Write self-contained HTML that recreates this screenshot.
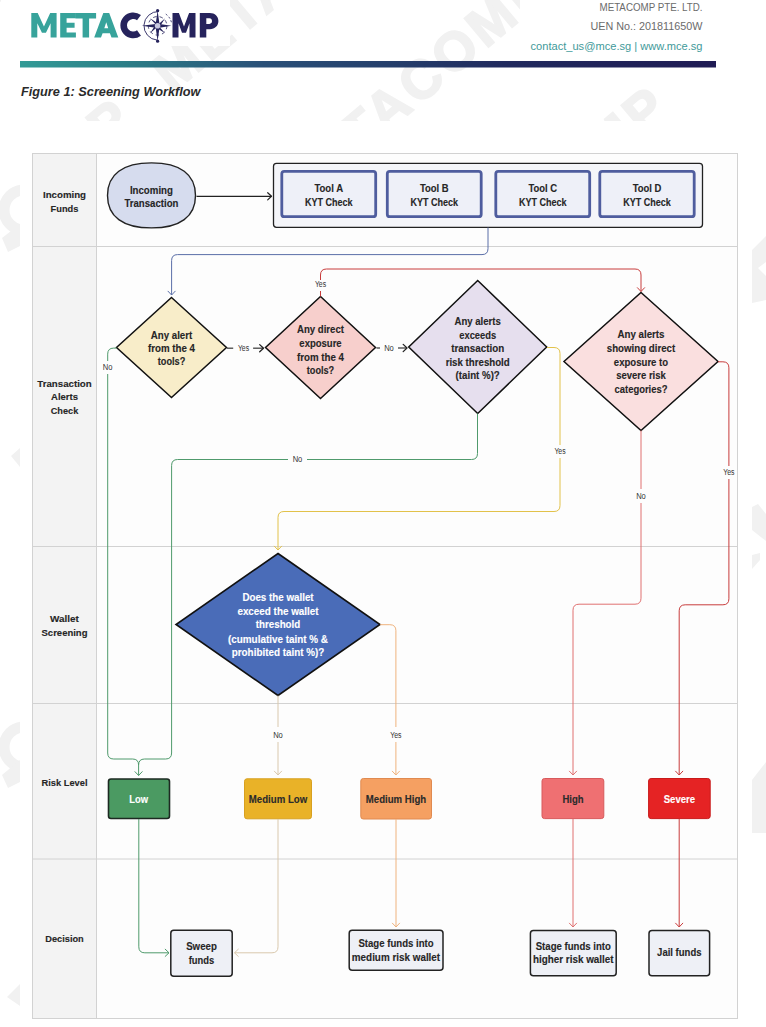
<!DOCTYPE html><html><head><meta charset="utf-8"><title>Screening Workflow</title><style>html,body{margin:0;padding:0;background:#fff;width:766px;height:1027px;overflow:hidden}svg{display:block}text{font-family:"Liberation Sans",sans-serif}</style></head><body>
<svg width="766" height="1027" viewBox="0 0 766 1027">
<defs><linearGradient id="bar" x1="0" x2="1" y1="0" y2="0"><stop offset="0" stop-color="#339b96"/><stop offset="0.16" stop-color="#2b7c86"/><stop offset="0.35" stop-color="#2a5078"/><stop offset="0.53" stop-color="#253f6c"/><stop offset="0.7" stop-color="#212a5e"/><stop offset="1" stop-color="#1f1b54"/></linearGradient></defs>
<rect x="0" y="0" width="766" height="1027" fill="#ffffff"/>
<defs><clipPath id="hdr"><rect x="0" y="0" width="766" height="121"/></clipPath><clipPath id="lm"><rect x="0" y="0" width="20" height="1027"/></clipPath></defs>
<g fill="#f1f1f1" stroke="#f1f1f1" stroke-width="2" font-size="54" font-weight="bold" letter-spacing="4" clip-path="url(#hdr)">
<text transform="translate(-185.3,-262.2) rotate(-40)">METACOMP</text>
<text transform="translate(-363.4,105.8) rotate(-40)">METACOMP</text>
<text transform="translate(-66.2,-143.6) rotate(-40)">METACOMP</text>
<text transform="translate(-244.2,224.5) rotate(-40)">METACOMP</text>
<text transform="translate(53.0,-24.9) rotate(-40)">METACOMP</text>
<text transform="translate(350.2,-274.3) rotate(-40)">METACOMP</text>
<text transform="translate(-422.3,592.6) rotate(-40)">METACOMP</text>
<text transform="translate(-125.1,343.2) rotate(-40)">METACOMP</text>
<text transform="translate(172.2,93.8) rotate(-40)">METACOMP</text>
<text transform="translate(469.4,-155.6) rotate(-40)">METACOMP</text>
<text transform="translate(-303.1,711.3) rotate(-40)">METACOMP</text>
<text transform="translate(-5.9,461.9) rotate(-40)">METACOMP</text>
<text transform="translate(291.3,212.5) rotate(-40)">METACOMP</text>
<text transform="translate(588.5,-37.0) rotate(-40)">METACOMP</text>
<text transform="translate(885.8,-286.4) rotate(-40)">METACOMP</text>
<text transform="translate(-184.0,829.9) rotate(-40)">METACOMP</text>
<text transform="translate(113.2,580.5) rotate(-40)">METACOMP</text>
<text transform="translate(410.5,331.1) rotate(-40)">METACOMP</text>
<text transform="translate(707.7,81.7) rotate(-40)">METACOMP</text>
<text transform="translate(1004.9,-167.7) rotate(-40)">METACOMP</text>
<text transform="translate(-362.0,1198.0) rotate(-40)">METACOMP</text>
<text transform="translate(-64.8,948.6) rotate(-40)">METACOMP</text>
<text transform="translate(232.4,699.2) rotate(-40)">METACOMP</text>
<text transform="translate(529.6,449.8) rotate(-40)">METACOMP</text>
<text transform="translate(826.9,200.4) rotate(-40)">METACOMP</text>
<text transform="translate(1124.1,-49.0) rotate(-40)">METACOMP</text>
<text transform="translate(-242.9,1316.7) rotate(-40)">METACOMP</text>
<text transform="translate(54.3,1067.3) rotate(-40)">METACOMP</text>
<text transform="translate(351.6,817.9) rotate(-40)">METACOMP</text>
<text transform="translate(648.8,568.5) rotate(-40)">METACOMP</text>
<text transform="translate(946.0,319.1) rotate(-40)">METACOMP</text>
<text transform="translate(173.5,1185.9) rotate(-40)">METACOMP</text>
<text transform="translate(470.7,936.5) rotate(-40)">METACOMP</text>
<text transform="translate(767.9,687.1) rotate(-40)">METACOMP</text>
<text transform="translate(1065.2,437.7) rotate(-40)">METACOMP</text>
<text transform="translate(292.7,1304.6) rotate(-40)">METACOMP</text>
<text transform="translate(589.9,1055.2) rotate(-40)">METACOMP</text>
<text transform="translate(887.1,805.8) rotate(-40)">METACOMP</text>
</g>
<g clip-path="url(#lm)" fill="none" stroke="#f1f1f1" stroke-width="11"><path d="M24 190 A19 19 0 1 0 24 230"/><path d="M24 727 A19 19 0 1 0 24 767"/></g>
<g fill="#f1f1f1"><path d="M11 456 L20 448 L20 467 Z"/><path d="M7 997 L20 984 L20 1006 Z"/><path d="M2 238 L20 224 L20 246 L8 252 Z"/><path d="M2 775 L20 760 L20 782 L8 788 Z"/>
<path d="M752 250 L766 236 L766 262 L758 268 L766 276 L766 300 L752 303 Z"/><path d="M752 507 L758 504 L766 514 L766 541 L752 530 Z"/><path d="M752 555 L760 553 L760 560 L752 569 Z"/><path d="M752 780 L766 762 L766 833 L752 833 Z"/></g>
<rect x="20" y="121" width="732" height="906" fill="#ffffff"/>
<rect x="25" y="0" width="205" height="46" fill="#ffffff"/>
<rect x="520" y="0" width="246" height="86" fill="#ffffff"/>
<path d="M31.3 37.6 L31.3 13.0 L37.7 13.0 L43.95 26.53 L50.2 13.0 L56.6 13.0 L56.6 37.6 L50.6 37.6 L50.6 23.332 L45.95 32.68000000000001 L41.95 32.68000000000001 L37.300000000000004 23.332 L37.300000000000004 37.6 Z" fill="#37a39b"/>
<path d="M60.2 13 H75.9 V18.2 H66.6 V22.7 H74.6 V27.8 H66.6 V32.4 H75.9 V37.6 H60.2 Z" fill="#37a39b"/>
<path d="M75.6 13 H96.1 V18.4 H89.1 V37.6 H82.6 V18.4 H75.6 Z" fill="#37a39b"/>
<path fill-rule="evenodd" d="M94.2 37.6 L103.3 13 H109.2 L118.3 37.6 H111.5 L109.9 33.2 H102.6 L101.0 37.6 Z M104.3 28.3 H108.2 L106.25 22.2 Z" fill="#37a39b"/>
<path d="M139.0 17.6 A9.6 9.6 0 1 0 139.0 33.0" fill="none" stroke="#26235c" stroke-width="6.6"/>
<path d="M172.5 37.6 L172.5 13.0 L178.9 13.0 L184.0 26.53 L189.1 13.0 L195.5 13.0 L195.5 37.6 L189.5 37.6 L189.5 23.332 L186.0 32.68000000000001 L182.0 32.68000000000001 L178.5 23.332 L178.5 37.6 Z" fill="#26235c"/>
<path fill-rule="evenodd" d="M199.8 37.6 V13 H209.8 C214.9 13 218.4 16.3 218.4 21.1 C218.4 25.9 214.9 29.2 209.8 29.2 H206.3 V37.6 Z M206.3 18.3 V23.9 H209.4 C211.1 23.9 212.0 22.8 212.0 21.1 C212.0 19.4 211.1 18.3 209.4 18.3 Z" fill="#26235c"/>
<path d="M158.85 11.55 A14.3 14.3 0 0 0 157.10 40.09" fill="none" stroke="#26235c" stroke-width="0.9"/>
<path d="M165.80 14.09 A14.3 14.3 0 0 1 171.68 23.32" fill="none" stroke="#26235c" stroke-width="0.9" stroke-dasharray="2 2"/>
<circle cx="157.6" cy="25.8" r="9.3" fill="none" stroke="#26235c" stroke-width="0.8" stroke-dasharray="3.5 3"/>
<path d="M157.6 10.600000000000001 L159.5 23.900000000000002 L171.4 25.8 L159.5 27.7 L157.6 41.2 L155.7 27.7 L141.7 25.8 L155.7 23.900000000000002 Z" fill="#26235c"/>
<path d="M150.1 18.3 L158.79999999999998 23.900000000000002 L165.1 18.3 L159.5 27.0 L165.1 33.3 L156.4 27.7 L150.1 33.3 L155.7 24.6 Z" fill="#26235c"/>
<circle cx="157.6" cy="25.8" r="2.8" fill="#c8c8e0"/>
<circle cx="157.6" cy="10.600000000000001" r="1.6" fill="#26235c"/><circle cx="157.6" cy="41.2" r="1.6" fill="#26235c"/>
<text x="702.5" y="11" font-size="10.6" fill="#6b6b6b" text-anchor="end" font-weight="normal" textLength="103" lengthAdjust="spacingAndGlyphs"  style="">METACOMP PTE. LTD.</text>
<text x="702.5" y="29.5" font-size="10.6" fill="#6b6b6b" text-anchor="end" font-weight="normal" textLength="112" lengthAdjust="spacingAndGlyphs"  style="">UEN No.: 201811650W</text>
<text x="702.5" y="50" font-size="10.6" fill="#3f9a9a" text-anchor="end" font-weight="normal" textLength="172" lengthAdjust="spacingAndGlyphs"  style="">contact_us@mce.sg | www.mce.sg</text>
<rect x="20" y="61" width="696" height="6.5" fill="url(#bar)"/>
<text x="21" y="96.4" font-size="13.6" fill="#2a2a2a" text-anchor="start" font-weight="bold" textLength="179.5" lengthAdjust="spacingAndGlyphs"  style="font-style:italic">Figure 1: Screening Workflow</text>
<rect x="32.5" y="153.5" width="705.0" height="865.0" fill="#fdfdfd" stroke="#d2d2d2" stroke-width="1"/>
<rect x="33.0" y="154.0" width="63.5" height="864.0" fill="#f3f3f3"/>
<line x1="96.5" y1="153.5" x2="96.5" y2="1018.5" stroke="#d2d2d2" stroke-width="1"/>
<line x1="32.5" y1="246.5" x2="737.5" y2="246.5" stroke="#d2d2d2" stroke-width="1"/>
<line x1="32.5" y1="546.5" x2="737.5" y2="546.5" stroke="#d2d2d2" stroke-width="1"/>
<line x1="32.5" y1="703.5" x2="737.5" y2="703.5" stroke="#d2d2d2" stroke-width="1"/>
<line x1="32.5" y1="859" x2="737.5" y2="859" stroke="#d2d2d2" stroke-width="1"/>
<text x="64.5" y="198" font-size="9.6" fill="#262626" text-anchor="middle" font-weight="bold" textLength="43" lengthAdjust="spacingAndGlyphs" stroke="#262626" stroke-width="0.12"  style="">Incoming</text>
<text x="64.5" y="211.8" font-size="9.6" fill="#262626" text-anchor="middle" font-weight="bold" textLength="27.8" lengthAdjust="spacingAndGlyphs" stroke="#262626" stroke-width="0.12"  style="">Funds</text>
<text x="64.5" y="387.4" font-size="9.6" fill="#262626" text-anchor="middle" font-weight="bold" textLength="54.4" lengthAdjust="spacingAndGlyphs" stroke="#262626" stroke-width="0.12"  style="">Transaction</text>
<text x="64.5" y="400.4" font-size="9.6" fill="#262626" text-anchor="middle" font-weight="bold" textLength="27" lengthAdjust="spacingAndGlyphs" stroke="#262626" stroke-width="0.12"  style="">Alerts</text>
<text x="64.5" y="413.9" font-size="9.6" fill="#262626" text-anchor="middle" font-weight="bold" textLength="27.6" lengthAdjust="spacingAndGlyphs" stroke="#262626" stroke-width="0.12"  style="">Check</text>
<text x="64.5" y="621.9" font-size="9.8" fill="#262626" text-anchor="middle" font-weight="bold" textLength="28.8" lengthAdjust="spacingAndGlyphs" stroke="#262626" stroke-width="0.12"  style="">Wallet</text>
<text x="64.5" y="635.6" font-size="9.8" fill="#262626" text-anchor="middle" font-weight="bold" textLength="46" lengthAdjust="spacingAndGlyphs" stroke="#262626" stroke-width="0.12"  style="">Screening</text>
<text x="64.5" y="785.5" font-size="9.8" fill="#262626" text-anchor="middle" font-weight="bold" textLength="46" lengthAdjust="spacingAndGlyphs" stroke="#262626" stroke-width="0.12"  style="">Risk Level</text>
<text x="64.5" y="941.9" font-size="8.6" fill="#262626" text-anchor="middle" font-weight="bold" textLength="38.5" lengthAdjust="spacingAndGlyphs" stroke="#262626" stroke-width="0.12"  style="">Decision</text>
<path d="M151.5 162.9 C180.1 162.9 195.5 174.275 195.5 195.4 C195.5 216.525 180.1 227.9 151.5 227.9 C122.9 227.9 107.5 216.525 107.5 195.4 C107.5 174.275 122.9 162.9 151.5 162.9 Z" fill="#d6dcee" stroke="#222" stroke-width="1.4"/>
<text x="151.4" y="193.6" font-size="10.4" fill="#262626" text-anchor="middle" font-weight="bold" textLength="43" lengthAdjust="spacingAndGlyphs" stroke="#262626" stroke-width="0.12"  style="">Incoming</text>
<text x="151.4" y="207.2" font-size="10.4" fill="#262626" text-anchor="middle" font-weight="bold" textLength="54" lengthAdjust="spacingAndGlyphs" stroke="#262626" stroke-width="0.12"  style="">Transaction</text>
<path d="M196.5 196.3 L271.5 196.3" fill="none" stroke="#222" stroke-width="1.2" stroke-linejoin="round"/>
<path d="M267.7 192.70000000000002 L271.5 196.3 L267.7 199.9" fill="none" stroke="#222" stroke-width="1.2" stroke-linecap="round" stroke-linejoin="round"/>
<rect x="273.5" y="163.3" width="429" height="64" rx="3" fill="#f4f5f9" stroke="#222" stroke-width="1.3"/>
<rect x="281.8" y="171.3" width="93.9" height="45.4" rx="2.5" fill="#eef0f8" stroke="#4f5d9e" stroke-width="2.8"/>
<text x="328.75" y="192.4" font-size="10.4" fill="#262626" text-anchor="middle" font-weight="bold" textLength="28.7" lengthAdjust="spacingAndGlyphs" stroke="#262626" stroke-width="0.12"  style="">Tool A</text>
<text x="328.75" y="206" font-size="10.4" fill="#262626" text-anchor="middle" font-weight="bold" textLength="47.7" lengthAdjust="spacingAndGlyphs" stroke="#262626" stroke-width="0.12"  style="">KYT Check</text>
<rect x="387.3" y="171.3" width="93.9" height="45.4" rx="2.5" fill="#eef0f8" stroke="#4f5d9e" stroke-width="2.8"/>
<text x="434.25" y="192.4" font-size="10.4" fill="#262626" text-anchor="middle" font-weight="bold" textLength="28.7" lengthAdjust="spacingAndGlyphs" stroke="#262626" stroke-width="0.12"  style="">Tool B</text>
<text x="434.25" y="206" font-size="10.4" fill="#262626" text-anchor="middle" font-weight="bold" textLength="47.7" lengthAdjust="spacingAndGlyphs" stroke="#262626" stroke-width="0.12"  style="">KYT Check</text>
<rect x="495.8" y="171.3" width="93.9" height="45.4" rx="2.5" fill="#eef0f8" stroke="#4f5d9e" stroke-width="2.8"/>
<text x="542.75" y="192.4" font-size="10.4" fill="#262626" text-anchor="middle" font-weight="bold" textLength="28.7" lengthAdjust="spacingAndGlyphs" stroke="#262626" stroke-width="0.12"  style="">Tool C</text>
<text x="542.75" y="206" font-size="10.4" fill="#262626" text-anchor="middle" font-weight="bold" textLength="47.7" lengthAdjust="spacingAndGlyphs" stroke="#262626" stroke-width="0.12"  style="">KYT Check</text>
<rect x="599.8" y="171.3" width="94.4" height="45.4" rx="2.5" fill="#eef0f8" stroke="#4f5d9e" stroke-width="2.8"/>
<text x="647.0" y="192.4" font-size="10.4" fill="#262626" text-anchor="middle" font-weight="bold" textLength="28.7" lengthAdjust="spacingAndGlyphs" stroke="#262626" stroke-width="0.12"  style="">Tool D</text>
<text x="647.0" y="206" font-size="10.4" fill="#262626" text-anchor="middle" font-weight="bold" textLength="47.7" lengthAdjust="spacingAndGlyphs" stroke="#262626" stroke-width="0.12"  style="">KYT Check</text>
<path d="M488 227.5 L488 248.6 Q488 254.6 482 254.6 L177.6 254.6 Q171.6 254.6 171.6 260.6 L171.6 295" fill="none" stroke="#5b6fa8" stroke-width="1.0" stroke-linejoin="round"/>
<path d="M168.0 291.2 L171.6 295 L175.2 291.2" fill="none" stroke="#5b6fa8" stroke-width="1.0" stroke-linecap="round" stroke-linejoin="round"/>
<path d="M171.5 297.5 L226.5 347.5 L171.5 397.5 L116.5 347.5 Z" fill="#f8edc9" stroke="#111" stroke-width="1.5" stroke-linejoin="miter"/>
<text x="171.5" y="338.5" font-size="10.4" fill="#262626" text-anchor="middle" font-weight="bold" textLength="41.5" lengthAdjust="spacingAndGlyphs" stroke="#262626" stroke-width="0.12"  style="">Any alert</text>
<text x="171.5" y="352" font-size="10.4" fill="#262626" text-anchor="middle" font-weight="bold" textLength="47" lengthAdjust="spacingAndGlyphs" stroke="#262626" stroke-width="0.12"  style="">from the 4</text>
<text x="171.5" y="365.3" font-size="10.4" fill="#262626" text-anchor="middle" font-weight="bold" textLength="27.5" lengthAdjust="spacingAndGlyphs" stroke="#262626" stroke-width="0.12"  style="">tools?</text>
<path d="M320.5 296.5 L375.5 347.5 L320.5 398.5 L265.5 347.5 Z" fill="#f7cfcc" stroke="#111" stroke-width="1.5" stroke-linejoin="miter"/>
<text x="320.5" y="333" font-size="10.4" fill="#262626" text-anchor="middle" font-weight="bold" textLength="47" lengthAdjust="spacingAndGlyphs" stroke="#262626" stroke-width="0.12"  style="">Any direct</text>
<text x="320.5" y="347" font-size="10.4" fill="#262626" text-anchor="middle" font-weight="bold" textLength="42.3" lengthAdjust="spacingAndGlyphs" stroke="#262626" stroke-width="0.12"  style="">exposure</text>
<text x="320.5" y="360.5" font-size="10.4" fill="#262626" text-anchor="middle" font-weight="bold" textLength="47" lengthAdjust="spacingAndGlyphs" stroke="#262626" stroke-width="0.12"  style="">from the 4</text>
<text x="320.5" y="373.6" font-size="10.4" fill="#262626" text-anchor="middle" font-weight="bold" textLength="27.4" lengthAdjust="spacingAndGlyphs" stroke="#262626" stroke-width="0.12"  style="">tools?</text>
<path d="M477.7 280.5 L546.7 347 L477.7 413.5 L408.7 347 Z" fill="#e6dfee" stroke="#111" stroke-width="1.5" stroke-linejoin="miter"/>
<text x="477.7" y="325.2" font-size="10.4" fill="#262626" text-anchor="middle" font-weight="bold" textLength="46.3" lengthAdjust="spacingAndGlyphs" stroke="#262626" stroke-width="0.12"  style="">Any alerts</text>
<text x="477.7" y="338.6" font-size="10.4" fill="#262626" text-anchor="middle" font-weight="bold" textLength="36.9" lengthAdjust="spacingAndGlyphs" stroke="#262626" stroke-width="0.12"  style="">exceeds</text>
<text x="477.7" y="352.2" font-size="10.4" fill="#262626" text-anchor="middle" font-weight="bold" textLength="52.9" lengthAdjust="spacingAndGlyphs" stroke="#262626" stroke-width="0.12"  style="">transaction</text>
<text x="477.7" y="365.9" font-size="10.4" fill="#262626" text-anchor="middle" font-weight="bold" textLength="64.1" lengthAdjust="spacingAndGlyphs" stroke="#262626" stroke-width="0.12"  style="">risk threshold</text>
<text x="477.7" y="379.3" font-size="10.4" fill="#262626" text-anchor="middle" font-weight="bold" textLength="44.2" lengthAdjust="spacingAndGlyphs" stroke="#262626" stroke-width="0.12"  style="">(taint %)?</text>
<path d="M641 292.5 L718 361.5 L641 430.5 L564 361.5 Z" fill="#fadfdf" stroke="#111" stroke-width="1.5" stroke-linejoin="miter"/>
<text x="641" y="338.3" font-size="10.4" fill="#262626" text-anchor="middle" font-weight="bold" textLength="47" lengthAdjust="spacingAndGlyphs" stroke="#262626" stroke-width="0.12"  style="">Any alerts</text>
<text x="641" y="351.9" font-size="10.4" fill="#262626" text-anchor="middle" font-weight="bold" textLength="68.4" lengthAdjust="spacingAndGlyphs" stroke="#262626" stroke-width="0.12"  style="">showing direct</text>
<text x="641" y="365.7" font-size="10.4" fill="#262626" text-anchor="middle" font-weight="bold" textLength="54.3" lengthAdjust="spacingAndGlyphs" stroke="#262626" stroke-width="0.12"  style="">exposure to</text>
<text x="641" y="379.3" font-size="10.4" fill="#262626" text-anchor="middle" font-weight="bold" textLength="49.6" lengthAdjust="spacingAndGlyphs" stroke="#262626" stroke-width="0.12"  style="">severe risk</text>
<text x="641" y="393.2" font-size="10.4" fill="#262626" text-anchor="middle" font-weight="bold" textLength="53" lengthAdjust="spacingAndGlyphs" stroke="#262626" stroke-width="0.12"  style="">categories?</text>
<path d="M227 348.2 L233.2 348.2" fill="none" stroke="#444" stroke-width="1.3" stroke-linejoin="round"/>
<text x="243.5" y="351" font-size="8.3" fill="#333" text-anchor="middle" font-weight="normal" textLength="11.2" lengthAdjust="spacingAndGlyphs"  style="">Yes</text>
<path d="M253.1 348.2 L263.5 348.2" fill="none" stroke="#444" stroke-width="1.3" stroke-linejoin="round"/>
<path d="M259.7 344.59999999999997 L263.5 348.2 L259.7 351.8" fill="none" stroke="#222" stroke-width="1.3" stroke-linecap="round" stroke-linejoin="round"/>
<path d="M376.5 348 L380 348" fill="none" stroke="#444" stroke-width="1.3" stroke-linejoin="round"/>
<text x="389" y="351" font-size="8.3" fill="#333" text-anchor="middle" font-weight="normal" textLength="9.7" lengthAdjust="spacingAndGlyphs"  style="">No</text>
<path d="M398 348 L407 348" fill="none" stroke="#444" stroke-width="1.3" stroke-linejoin="round"/>
<path d="M403.2 344.4 L407 348 L403.2 351.6" fill="none" stroke="#222" stroke-width="1.3" stroke-linecap="round" stroke-linejoin="round"/>
<path d="M320.5 296.5 L320.5 291" fill="none" stroke="#c83c3c" stroke-width="1.0" stroke-linejoin="round"/>
<text x="320.5" y="287" font-size="8.3" fill="#333" text-anchor="middle" font-weight="normal" textLength="11.2" lengthAdjust="spacingAndGlyphs"  style="">Yes</text>
<path d="M320.5 280 L320.5 275 Q320.5 269 326.5 269 L635 269 Q641 269 641 275 L641 291.5" fill="none" stroke="#c83c3c" stroke-width="1.0" stroke-linejoin="round"/>
<path d="M637.4 287.7 L641 291.5 L644.6 287.7" fill="none" stroke="#c83c3c" stroke-width="1.0" stroke-linecap="round" stroke-linejoin="round"/>
<path d="M116.5 348.1 L113.7 348.1 Q107.7 348.1 107.7 354.1 L107.7 361" fill="none" stroke="#4f9a6c" stroke-width="1.0" stroke-linejoin="round"/>
<text x="107.7" y="370" font-size="8.3" fill="#333" text-anchor="middle" font-weight="normal" textLength="9.7" lengthAdjust="spacingAndGlyphs"  style="">No</text>
<path d="M107.7 374 L107.7 753 Q107.7 759 113.7 759 L132.6 759 Q138.6 759 138.6 765 L138.6 775.5" fill="none" stroke="#4f9a6c" stroke-width="1.0" stroke-linejoin="round"/>
<path d="M477.5 413.5 L477.5 453.5 Q477.5 459.5 471.5 459.5 L307 459.5" fill="none" stroke="#4f9a6c" stroke-width="1.0" stroke-linejoin="round"/>
<text x="297.5" y="462.3" font-size="8.3" fill="#333" text-anchor="middle" font-weight="normal" textLength="9.7" lengthAdjust="spacingAndGlyphs"  style="">No</text>
<path d="M288 459.5 L177.6 459.5 Q171.6 459.5 171.6 465.5 L171.6 753 Q171.6 759 165.6 759 L144.6 759 Q138.6 759 138.6 765" fill="none" stroke="#4f9a6c" stroke-width="1.0" stroke-linejoin="round"/>
<path d="M135.0 771.7 L138.6 775.5 L142.2 771.7" fill="none" stroke="#4f9a6c" stroke-width="1.0" stroke-linecap="round" stroke-linejoin="round"/>
<path d="M547 347.5 L554 347.5 Q560 347.5 560 353.5 L560 445" fill="none" stroke="#e2c24a" stroke-width="1.0" stroke-linejoin="round"/>
<text x="560" y="454" font-size="8.3" fill="#333" text-anchor="middle" font-weight="normal" textLength="11.2" lengthAdjust="spacingAndGlyphs"  style="">Yes</text>
<path d="M560 458 L560 505.5 Q560 511.5 554 511.5 L284 511.5 Q278 511.5 278 517.5 L278 550" fill="none" stroke="#e2c24a" stroke-width="1.0" stroke-linejoin="round"/>
<path d="M274.4 546.2 L278 550 L281.6 546.2" fill="none" stroke="#e2c24a" stroke-width="1.0" stroke-linecap="round" stroke-linejoin="round"/>
<path d="M641 430.5 L641 489" fill="none" stroke="#e07070" stroke-width="1.0" stroke-linejoin="round"/>
<text x="641" y="499" font-size="8.3" fill="#333" text-anchor="middle" font-weight="normal" textLength="9.7" lengthAdjust="spacingAndGlyphs"  style="">No</text>
<path d="M641 503 L641 598.2 Q641 604.2 635 604.2 L579 604.2 Q573 604.2 573 610.2 L573 775" fill="none" stroke="#e07070" stroke-width="1.0" stroke-linejoin="round"/>
<path d="M569.4 771.2 L573 775 L576.6 771.2" fill="none" stroke="#e07070" stroke-width="1.0" stroke-linecap="round" stroke-linejoin="round"/>
<path d="M718 361.8 L722.9 361.8 Q728.9 361.8 728.9 367.8 L728.9 466" fill="none" stroke="#c83c3c" stroke-width="1.0" stroke-linejoin="round"/>
<text x="728.9" y="475" font-size="8.3" fill="#333" text-anchor="middle" font-weight="normal" textLength="11.2" lengthAdjust="spacingAndGlyphs"  style="">Yes</text>
<path d="M728.9 479 L728.9 598.8 Q728.9 604.8 722.9 604.8 L685.2 604.8 Q679.2 604.8 679.2 610.8 L679.2 775" fill="none" stroke="#c83c3c" stroke-width="1.0" stroke-linejoin="round"/>
<path d="M675.6 771.2 L679.2 775 L682.8000000000001 771.2" fill="none" stroke="#c83c3c" stroke-width="1.0" stroke-linecap="round" stroke-linejoin="round"/>
<path d="M278 553.5 L380 624.5 L278 695.5 L176 624.5 Z" fill="#4a6cb8" stroke="#111" stroke-width="1.6" stroke-linejoin="miter"/>
<text x="278" y="601.1" font-size="10.4" fill="#ffffff" text-anchor="middle" font-weight="bold" textLength="71.2" lengthAdjust="spacingAndGlyphs" stroke="#ffffff" stroke-width="0.12"  style="">Does the wallet</text>
<text x="278" y="614.9" font-size="10.4" fill="#ffffff" text-anchor="middle" font-weight="bold" textLength="81.2" lengthAdjust="spacingAndGlyphs" stroke="#ffffff" stroke-width="0.12"  style="">exceed the wallet</text>
<text x="278" y="628.4" font-size="10.4" fill="#ffffff" text-anchor="middle" font-weight="bold" textLength="44.5" lengthAdjust="spacingAndGlyphs" stroke="#ffffff" stroke-width="0.12"  style="">threshold</text>
<text x="278" y="642.5" font-size="10.4" fill="#ffffff" text-anchor="middle" font-weight="bold" textLength="100" lengthAdjust="spacingAndGlyphs" stroke="#ffffff" stroke-width="0.12"  style="">(cumulative taint % &amp;</text>
<text x="278" y="656" font-size="10.4" fill="#ffffff" text-anchor="middle" font-weight="bold" textLength="92.5" lengthAdjust="spacingAndGlyphs" stroke="#ffffff" stroke-width="0.12"  style="">prohibited taint %)?</text>
<path d="M278 695.5 L278 727" fill="none" stroke="#d9c8ad" stroke-width="1.0" stroke-linejoin="round"/>
<text x="278" y="737.5" font-size="8.3" fill="#333" text-anchor="middle" font-weight="normal" textLength="9.7" lengthAdjust="spacingAndGlyphs"  style="">No</text>
<path d="M278 742 L278 775" fill="none" stroke="#d9c8ad" stroke-width="1.0" stroke-linejoin="round"/>
<path d="M274.4 771.2 L278 775 L281.6 771.2" fill="none" stroke="#d9c8ad" stroke-width="1.0" stroke-linecap="round" stroke-linejoin="round"/>
<path d="M380 624.7 L389.9 624.7 Q395.9 624.7 395.9 630.7 L395.9 727" fill="none" stroke="#efb37e" stroke-width="1.0" stroke-linejoin="round"/>
<text x="395.9" y="737.5" font-size="8.3" fill="#333" text-anchor="middle" font-weight="normal" textLength="11.2" lengthAdjust="spacingAndGlyphs"  style="">Yes</text>
<path d="M395.9 742 L395.9 775" fill="none" stroke="#efb37e" stroke-width="1.0" stroke-linejoin="round"/>
<path d="M392.29999999999995 771.2 L395.9 775 L399.5 771.2" fill="none" stroke="#efb37e" stroke-width="1.0" stroke-linecap="round" stroke-linejoin="round"/>
<rect x="108.5" y="779" width="61.0" height="39.5" rx="2.5" fill="#4b9a62" stroke="#1d2a22" stroke-width="1.6"/>
<text x="138.6" y="802.9" font-size="10.4" fill="#ffffff" text-anchor="middle" font-weight="bold" textLength="18.8" lengthAdjust="spacingAndGlyphs" stroke="#ffffff" stroke-width="0.12"  style="">Low</text>
<rect x="244.5" y="778.8" width="67.0" height="40.0" rx="2.5" fill="#e9b228" stroke="#d8a020" stroke-width="1"/>
<text x="278" y="803" font-size="10.4" fill="#2b2b2b" text-anchor="middle" font-weight="bold" textLength="58.3" lengthAdjust="spacingAndGlyphs" stroke="#2b2b2b" stroke-width="0.12"  style="">Medium Low</text>
<rect x="360.8" y="778.5" width="70.69999999999999" height="40.5" rx="2.5" fill="#f5a062" stroke="#e08a50" stroke-width="1"/>
<text x="396" y="802.5" font-size="10.4" fill="#2b2b2b" text-anchor="middle" font-weight="bold" textLength="60.3" lengthAdjust="spacingAndGlyphs" stroke="#2b2b2b" stroke-width="0.12"  style="">Medium High</text>
<rect x="542" y="778.5" width="61.799999999999955" height="40.10000000000002" rx="2.5" fill="#ef7072" stroke="#d85a5c" stroke-width="1"/>
<text x="573" y="802.7" font-size="10.4" fill="#2b2b2b" text-anchor="middle" font-weight="bold" textLength="21.1" lengthAdjust="spacingAndGlyphs" stroke="#2b2b2b" stroke-width="0.12"  style="">High</text>
<rect x="648.6" y="778.5" width="61.60000000000002" height="40.10000000000002" rx="2.5" fill="#e52324" stroke="#c81a1a" stroke-width="1"/>
<text x="679.4" y="802.7" font-size="10.4" fill="#ffffff" text-anchor="middle" font-weight="bold" textLength="31.5" lengthAdjust="spacingAndGlyphs" stroke="#ffffff" stroke-width="0.12"  style="">Severe</text>
<path d="M138.8 819 L138.8 946.8 Q138.8 952.8 144.8 952.8 L169 952.8" fill="none" stroke="#4f9a6c" stroke-width="1.0" stroke-linejoin="round"/>
<path d="M165.2 949.1999999999999 L169 952.8 L165.2 956.4" fill="none" stroke="#4f9a6c" stroke-width="1.0" stroke-linecap="round" stroke-linejoin="round"/>
<path d="M278 819 L278 946.8 Q278 952.8 272 952.8 L234.5 952.8" fill="none" stroke="#d9c8ad" stroke-width="1.0" stroke-linejoin="round"/>
<path d="M238.3 949.1999999999999 L234.5 952.8 L238.3 956.4" fill="none" stroke="#d9c8ad" stroke-width="1.0" stroke-linecap="round" stroke-linejoin="round"/>
<path d="M396 819 L396 927" fill="none" stroke="#efb37e" stroke-width="1.0" stroke-linejoin="round"/>
<path d="M392.4 923.2 L396 927 L399.6 923.2" fill="none" stroke="#efb37e" stroke-width="1.0" stroke-linecap="round" stroke-linejoin="round"/>
<path d="M573 819 L573 927" fill="none" stroke="#e07070" stroke-width="1.0" stroke-linejoin="round"/>
<path d="M569.4 923.2 L573 927 L576.6 923.2" fill="none" stroke="#e07070" stroke-width="1.0" stroke-linecap="round" stroke-linejoin="round"/>
<path d="M679.2 819 L679.2 927" fill="none" stroke="#c83c3c" stroke-width="1.0" stroke-linejoin="round"/>
<path d="M675.6 923.2 L679.2 927 L682.8000000000001 923.2" fill="none" stroke="#c83c3c" stroke-width="1.0" stroke-linecap="round" stroke-linejoin="round"/>
<rect x="170.8" y="930.3" width="61.39999999999998" height="46.0" rx="3" fill="#eef0f6" stroke="#222" stroke-width="1.5"/>
<text x="201.5" y="950" font-size="10.4" fill="#262626" text-anchor="middle" font-weight="bold" textLength="30.7" lengthAdjust="spacingAndGlyphs" stroke="#262626" stroke-width="0.12"  style="">Sweep</text>
<text x="201.5" y="963.8" font-size="10.4" fill="#262626" text-anchor="middle" font-weight="bold" textLength="25.5" lengthAdjust="spacingAndGlyphs" stroke="#262626" stroke-width="0.12"  style="">funds</text>
<rect x="349.2" y="930.2" width="93.80000000000001" height="40.0" rx="3" fill="#eef0f6" stroke="#222" stroke-width="1.5"/>
<text x="396" y="946.7" font-size="10.4" fill="#262626" text-anchor="middle" font-weight="bold" textLength="75.2" lengthAdjust="spacingAndGlyphs" stroke="#262626" stroke-width="0.12"  style="">Stage funds into</text>
<text x="396" y="960.6" font-size="10.4" fill="#262626" text-anchor="middle" font-weight="bold" textLength="88.3" lengthAdjust="spacingAndGlyphs" stroke="#262626" stroke-width="0.12"  style="">medium risk wallet</text>
<rect x="530.4" y="930.5" width="85.80000000000007" height="45.299999999999955" rx="3" fill="#eef0f6" stroke="#222" stroke-width="1.5"/>
<text x="573.3" y="949.6" font-size="10.4" fill="#262626" text-anchor="middle" font-weight="bold" textLength="75.2" lengthAdjust="spacingAndGlyphs" stroke="#262626" stroke-width="0.12"  style="">Stage funds into</text>
<text x="573.3" y="963.4" font-size="10.4" fill="#262626" text-anchor="middle" font-weight="bold" textLength="80.7" lengthAdjust="spacingAndGlyphs" stroke="#262626" stroke-width="0.12"  style="">higher risk wallet</text>
<rect x="649" y="930.5" width="60.60000000000002" height="45.299999999999955" rx="3" fill="#eef0f6" stroke="#222" stroke-width="1.5"/>
<text x="679.3" y="956" font-size="10.4" fill="#262626" text-anchor="middle" font-weight="bold" textLength="44.4" lengthAdjust="spacingAndGlyphs" stroke="#262626" stroke-width="0.12"  style="">Jail funds</text>
</svg></body></html>
